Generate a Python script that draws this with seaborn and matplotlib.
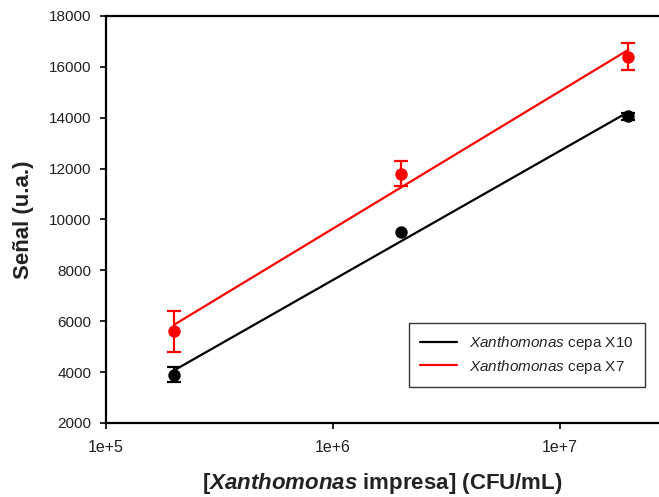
import numpy as np
import pandas as pd
import matplotlib
matplotlib.use("Agg")
import matplotlib.pyplot as plt
from matplotlib.lines import Line2D
import seaborn as sns

# Concentration of printed Xanthomonas (CFU/mL)
concentration = [2e5, 2e6, 2e7]

# Signal for each strain (a.u.) and its standard deviation
signal_x10 = [3900, 9500, 14050]
err_x10 = [300, 0, 150]
signal_x7 = [5600, 11800, 16400]
err_x7 = [820, 480, 520]

strain_names = ["$\\it{Xanthomonas}$ cepa X10", "$\\it{Xanthomonas}$ cepa X7"]
strain_colors = ["black", "#ff0000"]

y_ticks = [2000, 4000, 6000, 8000, 10000, 12000, 14000, 16000, 18000]
x_ticks = [1e5, 1e6, 1e7]
x_tick_labels = ["1e+5", "1e+6", "1e+7"]

sns.set_theme(style="ticks")
plt.rcParams["font.family"] = ["Liberation Sans", "DejaVu Sans"]
plt.rcParams["mathtext.fontset"] = "custom"
plt.rcParams["mathtext.it"] = "Liberation Sans:italic"
plt.rcParams["mathtext.bf"] = "Liberation Sans:bold"
plt.rcParams["mathtext.bfit"] = "Liberation Sans:bold:italic"
plt.rcParams["mathtext.rm"] = "Liberation Sans"

fig = plt.figure(figsize=(6.59, 4.97), dpi=100)
ax = fig.add_axes([0.161, 0.149, 0.839, 0.819])

ax.set_xscale("log")

series = [(signal_x10, err_x10), (signal_x7, err_x7)]
handles = []
for (vals, errs), name, color in zip(series, strain_names, strain_colors):
    df = pd.DataFrame({"conc": concentration, "signal": vals, "err": errs})
    # Linear fit of signal against log10(concentration)
    sns.regplot(data=df, x="conc", y="signal", logx=True, ci=None,
                scatter=False, truncate=True, ax=ax,
                line_kws={"color": color, "lw": 1.6})
    # Mean values with standard deviation bars
    withbar = df[df["err"] > 0]
    ax.errorbar(withbar["conc"], withbar["signal"], yerr=withbar["err"],
                fmt="none", ecolor=color, capsize=5, capthick=1.6,
                elinewidth=1.6, zorder=3)
    sns.scatterplot(data=df, x="conc", y="signal", color=color, s=80,
                    edgecolor=color, linewidth=0, ax=ax, zorder=4)
    handles.append(Line2D([], [], color=color, lw=1.6, label=name))

ax.set_xlim(1e5, 2.73e7)
ax.set_ylim(2000, 18000)
ax.set_yticks(y_ticks)
ax.set_yticklabels([str(v) for v in y_ticks])
ax.set_xticks(x_ticks)
ax.set_xticklabels(x_tick_labels)
ax.xaxis.set_minor_locator(matplotlib.ticker.NullLocator())

ax.tick_params(axis="both", which="major", direction="out", length=4,
               width=1.2, color="black", labelsize=11, labelcolor="#222222")
ax.tick_params(axis="y", pad=6.5)
ax.tick_params(axis="x", pad=8, labelsize=11.5)

for side in ["left", "bottom", "top"]:
    ax.spines[side].set_visible(True)
    ax.spines[side].set_linewidth(1.6)
    ax.spines[side].set_color("black")
ax.spines["right"].set_visible(False)

ax.set_xlabel("[$\\bfit{Xanthomonas}$ impresa] (CFU/mL)", fontsize=16,
              fontweight="bold", color="#222222", labelpad=12)
ax.set_ylabel("Señal (u.a.)", fontsize=16, fontweight="bold",
              color="#222222", labelpad=11)

leg = ax.legend(handles=handles, loc="lower right",
                bbox_to_anchor=(0.975, 0.088),
                frameon=True, fancybox=False, edgecolor="black",
                fontsize=11, handlelength=2.4, borderpad=0.75,
                labelspacing=0.35, handletextpad=0.8, borderaxespad=0)
leg.get_frame().set_linewidth(1.0)

fig.savefig("out.png", dpi=100)
